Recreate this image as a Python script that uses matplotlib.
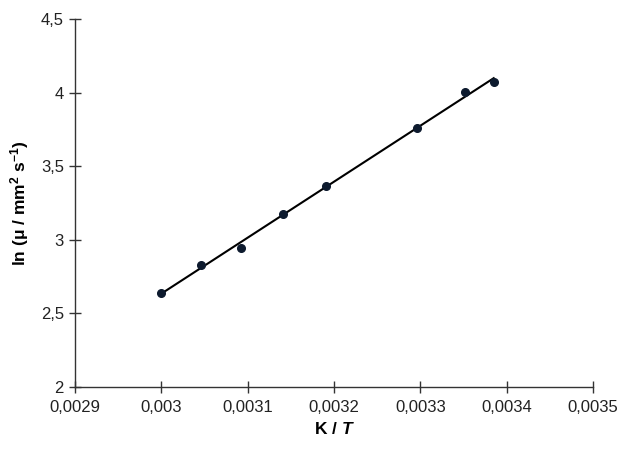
import numpy as np
from matplotlib import pyplot as plt
from matplotlib.ticker import FuncFormatter

plt.rcParams['font.family'] = ['Liberation Sans', 'DejaVu Sans']
plt.rcParams['mathtext.fontset'] = 'custom'
plt.rcParams['mathtext.rm'] = 'Liberation Sans:bold'
plt.rcParams['mathtext.bf'] = 'Liberation Sans:bold'
plt.rcParams['mathtext.it'] = 'Liberation Sans:bold:italic'

# data
inv_T = [0.0030, 0.003046, 0.003092, 0.003141, 0.003191, 0.003296, 0.003352, 0.003385]
ln_mu = [2.639, 2.829, 2.944, 3.175, 3.366, 3.760, 4.004, 4.072]
x_ticks = [0.0029, 0.0030, 0.0031, 0.0032, 0.0033, 0.0034, 0.0035]
y_ticks = [2, 2.5, 3, 3.5, 4, 4.5]

fig = plt.figure(figsize=(6.24, 4.49), dpi=100)
ax = fig.add_axes([0.1202, 0.138, 0.8301, 0.8197])

# linear trendline over the data range
k, b = np.polyfit(inv_T, ln_mu, 1)
xs = np.array([min(inv_T), max(inv_T)])
ax.plot(xs, k * xs + b, color='black', lw=1.5, zorder=2)
ax.plot(inv_T, ln_mu, 'o', color='#0d1a2e', ms=5.5, zorder=3)

ax.set_xlim(0.0029, 0.0035)
ax.set_ylim(2, 4.5)
ax.set_xticks(x_ticks)
ax.set_yticks(y_ticks)

def comma_fmt(v, pos):
    s = f'{v:.4f}'.rstrip('0').rstrip('.')
    return s.replace('.', ',')

ax.xaxis.set_major_formatter(FuncFormatter(comma_fmt))
ax.yaxis.set_major_formatter(FuncFormatter(comma_fmt))

for side in ['top', 'right']:
    ax.spines[side].set_visible(False)
for side in ['left', 'bottom']:
    ax.spines[side].set_color('#333333')
    ax.spines[side].set_linewidth(1.0)

ax.tick_params(direction='inout', length=8, width=1.0, color='#333333',
               labelsize=12, labelcolor='#222222')
ax.tick_params(axis='x', pad=5)
ax.tick_params(axis='y', pad=4)

ax.set_xlabel(r'K / $\it{T}$', fontsize=12.5, fontweight='bold', labelpad=5)
ax.set_ylabel(r'ln (μ / mm$^\mathbf{2}$ s$^\mathbf{-1}$)', fontsize=12.5,
              fontweight='bold', labelpad=7)

fig.savefig('out.png', dpi=100)
